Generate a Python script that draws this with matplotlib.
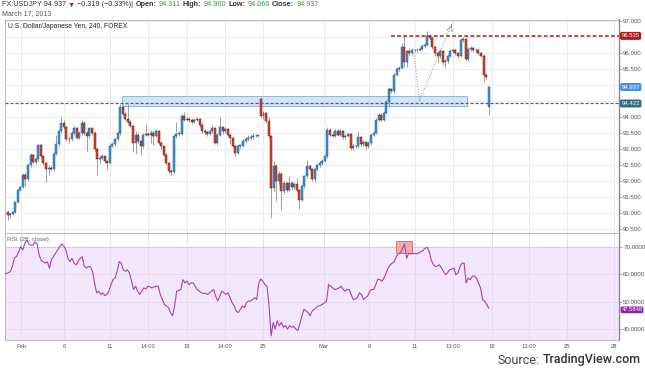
import matplotlib
matplotlib.use("Agg")
import matplotlib.pyplot as plt
import numpy as np
from matplotlib.patches import Rectangle

plt.rcParams["font.family"] = ["Liberation Sans", "DejaVu Sans"]

# ---- data (4h USDJPY candles, index = candle number) ----
first_open = 91.02
gap_opens = {99: 94.55, 188: 94.311}

closes = [
    90.95, 90.98, 91.02, 91.33, 91.72, 91.80, 92.20, 92.06, 92.50, 92.80,
    92.60, 92.68, 93.13, 92.77, 92.56, 92.38, 92.42, 92.36, 92.85, 93.15,
    93.55, 93.80, 93.68, 93.32, 93.30, 93.50, 93.66, 93.35, 93.50, 93.82,
    93.50, 93.40, 93.65, 93.50, 93.00, 92.68, 92.72, 92.78, 92.62, 92.56,
    93.10, 93.15, 93.30, 93.50, 94.31, 94.10, 93.95, 93.85, 93.73, 93.20,
    93.45, 93.24, 93.08, 93.45, 93.46, 93.45, 93.50, 93.40, 93.55, 93.19,
    93.08, 92.82, 92.56, 92.30, 92.27, 93.40, 93.48, 93.48, 94.04, 93.92,
    93.95, 93.92, 93.85, 93.92, 93.95, 93.76, 93.57, 93.52, 93.48, 93.55,
    93.66, 93.20, 93.45, 93.68, 93.55, 93.62, 93.45, 93.34, 93.10, 92.88,
    93.10, 93.10, 93.25, 93.30, 93.35, 93.38, 93.40, 93.42, 93.43, 94.02,
    94.12, 93.86, 93.40, 91.78, 92.48, 92.00, 92.23, 91.68, 91.93, 91.73,
    91.95, 91.80, 91.90, 91.72, 91.42, 91.83, 92.15, 92.46, 92.37, 92.06,
    92.36, 92.50, 92.56, 92.62, 92.77, 93.60, 93.45, 93.42, 93.57, 93.45,
    93.57, 93.36, 93.40, 93.47, 93.03, 93.10, 93.08, 93.38, 93.15, 93.22,
    93.08, 93.18, 93.45, 93.50, 93.92, 94.07, 93.92, 94.12, 94.46, 94.88,
    94.80, 95.32, 95.50, 95.53, 96.19, 95.71, 96.05, 96.00, 96.10, 96.08,
    96.10, 96.13, 96.21, 96.26, 96.54, 96.47, 96.19, 96.00, 95.90, 96.05,
    95.71, 95.74, 95.92, 96.05, 96.08, 96.00, 95.90, 96.40, 96.44, 95.81,
    96.12, 96.15, 96.10, 96.08, 96.00, 95.92, 95.32, 95.256, 94.937,
]

highs = [
    91.05, 91.02, 91.05, 91.38, 91.76, 91.84, 92.26, 92.24, 92.55, 92.86,
    92.84, 92.74, 93.16, 93.15, 92.80, 92.60, 92.50, 92.48, 92.90, 93.45,
    93.60, 94.00, 93.90, 93.72, 93.40, 93.56, 93.72, 93.70, 93.56, 93.90,
    93.86, 93.55, 93.70, 93.70, 93.55, 93.05, 92.80, 92.85, 92.82, 92.66,
    93.14, 93.22, 93.35, 93.55, 94.40, 94.36, 94.15, 94.40, 93.90, 93.78,
    93.55, 93.50, 93.28, 93.50, 93.78, 93.52, 93.58, 93.55, 93.62, 93.60,
    93.24, 93.12, 92.86, 92.60, 92.36, 93.45, 93.85, 93.55, 94.08, 94.15,
    94.00, 94.00, 93.96, 93.96, 94.00, 93.98, 93.80, 93.62, 93.56, 93.60,
    93.74, 93.70, 93.50, 94.00, 93.72, 93.68, 93.66, 93.50, 93.38, 93.14,
    93.15, 93.16, 93.30, 93.36, 93.45, 93.46, 93.50, 93.48, 93.48, 94.62,
    94.18, 94.16, 94.00, 93.45, 92.62, 92.52, 92.30, 92.28, 92.00, 91.98,
    92.15, 92.00, 91.96, 92.10, 91.76, 91.88, 92.20, 92.66, 92.50, 92.42,
    92.40, 92.55, 92.62, 92.68, 92.82, 93.68, 93.66, 93.52, 93.64, 93.62,
    93.62, 93.60, 93.45, 93.52, 93.50, 93.15, 93.14, 93.55, 93.42, 93.28,
    93.26, 93.24, 93.50, 93.55, 93.96, 94.12, 94.12, 94.18, 94.52, 94.95,
    94.92, 95.38, 95.56, 95.60, 96.30, 96.57, 96.10, 96.15, 96.16, 96.14,
    96.15, 96.20, 96.28, 96.32, 96.68, 96.60, 96.52, 96.24, 96.05, 96.12,
    96.10, 95.82, 95.98, 96.12, 96.14, 96.12, 96.04, 96.46, 96.50, 96.48,
    96.18, 96.22, 96.20, 96.14, 96.12, 96.04, 95.96, 95.36, 94.96,
]

lows = [
    90.78, 90.85, 90.93, 91.00, 91.30, 91.68, 91.78, 91.85, 92.00, 92.45,
    92.55, 92.52, 92.64, 92.72, 92.50, 91.98, 92.20, 92.30, 92.32, 92.80,
    93.10, 93.50, 93.62, 93.26, 93.20, 93.25, 93.45, 93.30, 93.30, 93.45,
    93.45, 92.95, 93.35, 93.45, 92.95, 92.18, 92.55, 92.65, 92.55, 92.35,
    92.52, 93.05, 93.10, 93.25, 93.45, 94.05, 93.90, 93.80, 93.68, 92.90,
    92.85, 93.18, 92.82, 93.02, 93.40, 93.40, 93.20, 93.12, 93.36, 93.15,
    93.00, 92.78, 92.50, 92.25, 92.18, 92.22, 93.35, 93.42, 93.44, 93.88,
    93.86, 93.85, 93.78, 93.80, 93.88, 93.70, 93.50, 93.46, 93.42, 93.44,
    93.50, 93.15, 93.12, 93.40, 93.48, 93.50, 93.40, 93.15, 93.05, 92.78,
    92.84, 93.04, 93.05, 93.20, 93.25, 93.28, 93.32, 93.36, 93.38, 93.98,
    93.95, 93.80, 93.35, 90.85, 91.70, 91.36, 91.92, 91.10, 91.60, 91.65,
    91.68, 91.72, 91.74, 91.66, 91.12, 91.38, 91.78, 92.10, 92.30, 92.00,
    91.98, 92.30, 92.45, 92.50, 92.58, 92.72, 93.40, 93.36, 93.38, 93.40,
    93.40, 93.30, 93.32, 93.36, 92.98, 92.98, 93.02, 93.04, 93.10, 93.10,
    93.00, 93.04, 93.14, 93.40, 93.46, 93.88, 93.88, 93.88, 94.08, 94.30,
    94.74, 94.76, 95.28, 95.45, 95.50, 95.55, 95.55, 95.90, 95.95, 96.02,
    96.02, 96.05, 96.08, 96.16, 96.22, 96.40, 96.12, 95.92, 95.70, 95.85,
    95.62, 95.53, 95.70, 95.88, 96.00, 95.94, 95.84, 95.86, 96.35, 95.75,
    95.76, 96.06, 96.04, 96.00, 95.94, 95.86, 95.10, 95.20, 94.066,
]

# RSI(28) read at even steps across the panel
rsi = [
    60, 60.2, 60.5, 61, 63, 66, 66.5, 68, 70, 68.8,
    71, 72.4, 71, 70.5, 70.6, 71.8, 71, 67, 65, 64.5,
    64, 64.5, 62.2, 65.2, 66.4, 67.6, 68.8, 70, 71, 70.3,
    68.8, 65.8, 64.6, 65.8, 64, 63.4, 64.6, 65.8, 66.4, 62.8,
    62.2, 62.8, 62.6, 61, 56.8, 53.2, 53.8, 52.6, 53.2, 52.2,
    52.6, 53.8, 56.2, 58, 58.6, 61, 64.6, 64, 61.6, 61,
    61.6, 60.4, 57.4, 54.4, 55.6, 53.8, 52.6, 53.8, 55, 54.6,
    55.6, 55.4, 55, 55.4, 55.6, 55.6, 52.6, 50.8, 49, 48.4,
    47.8, 46, 44.8, 48.4, 53.8, 54, 54.4, 58, 56.8, 57.4,
    56.2, 56.8, 56.8, 55.6, 54.4, 53.8, 53.2, 53, 53, 52.6,
    53.2, 53.8, 54.4, 52, 50.2, 52, 53.8, 53.2, 52.6, 53.2,
    51.4, 49.6, 48.4, 46.6, 46, 47.2, 48.4, 47.8, 49.6, 50.2,
    50.2, 50.8, 51.4, 50.8, 56.8, 58.2, 57.4, 56.2, 55.6, 48.4,
    37.5, 42.4, 40, 43, 41.2, 42.4, 40.6, 41.2, 40, 41.2,
    40.6, 41, 40, 39.4, 41.8, 44.8, 47.2, 46.6, 46, 44.8,
    46.6, 47.2, 47.8, 48.4, 48.6, 49, 49.6, 50.2, 56.2, 55.6,
    55, 54.4, 54.6, 55, 55.6, 54.6, 53.8, 54.4, 54.4, 52.6,
    50.8, 51, 51.4, 53.2, 52.6, 50.8, 51.4, 52, 53.8, 54.4,
    54.4, 56.2, 58.2, 58, 57.4, 58.6, 60.4, 62.2, 63.4, 64,
    64.6, 66.4, 67.4, 67.8, 69.4, 71, 65.8, 67.6, 67.4, 67.4,
    67.6, 67.4, 67.8, 68.2, 68.6, 69.4, 69.8, 68.2, 65.2, 63.4,
    62.8, 63, 63.4, 62.2, 61, 59.8, 60.6, 61.6, 61.8, 62.2,
    59.8, 60.4, 62.8, 64, 64, 56.8, 58.6, 58, 59.2, 59.4,
    58.6, 56.8, 55, 50.8, 50.2, 49, 47.6,
]
rsi_last = 47.5848

tick_pos = [5.3, 22.1, 40.0, 54.9, 70.1, 85.0, 99.8, 123.6, 141.2, 159.2, 174.0, 189.3, 203.7, 218.6, 236.9]
tick_labels = ["Feb", "6", "11", "14:00", "18", "14:00", "25", "Mar", "6", "11", "13:00", "18", "13:00", "25", "28"]
price_ticks = [90.5, 91.0, 91.5, 92.0, 92.5, 93.0, 93.5, 94.0, 94.5, 95.0, 95.5, 96.0, 96.5, 97.0]
hidden_ticks = [94.5, 95.0, 96.5]   # covered by the price badges in the reference

resistance = 96.535
support = 94.422
last_close = 94.937
zone = (44.8, 179.6, 94.35, 94.65)          # x0, x1, low, high
swing_x = [158.8, 160.9, 173.9]
swing_y = [96.00, 94.49, 96.96]
rsi_box = (151.9, 158.1, 67.6, 72.0)

W, H = 645, 376
UP, UP_EDGE = "#3a8ee6", "#2b5f7a"
DN, DN_EDGE = "#e2432a", "#5c1a0f"
GRID = "#e9e9e9"
TXT = "#555555"


def fx(x):
    return x / W


def fy(y):
    return 1 - y / H


fig = plt.figure(figsize=(W / 100, H / 100), dpi=100)
fig.patch.set_facecolor("white")
ax = fig.add_axes([fx(5), fy(232.5), 614 / W, 213 / H])
rx = fig.add_axes([fx(5), fy(340), 614 / W, 107 / H], sharex=ax)
renderer = fig.canvas.get_renderer()

# ---- candles ----
c = np.array(closes)
hi = np.array(highs)
lo = np.array(lows)
o = np.r_[first_open, c[:-1]]
for k, v in gap_opens.items():
    o[k] = v
idx = np.arange(len(c))
up = c >= o
hi = np.maximum(hi, np.maximum(o, c))
lo = np.minimum(lo, np.minimum(o, c))
body_lo = np.minimum(o, c)
body_h = np.maximum(np.abs(c - o), 0.015)

ax.vlines(idx, lo, hi, color="#8f8f8f", lw=0.6, zorder=3)
ax.bar(idx[up], body_h[up], bottom=body_lo[up], width=0.78,
       color=UP, edgecolor=UP_EDGE, linewidth=0.35, zorder=4)
ax.bar(idx[~up], body_h[~up], bottom=body_lo[~up], width=0.78,
       color=DN, edgecolor=DN_EDGE, linewidth=0.35, zorder=4)

# ---- drawings ----
ax.add_patch(Rectangle((zone[0], zone[2]), zone[1] - zone[0], zone[3] - zone[2],
                       facecolor="#c9dcf4", alpha=0.75, edgecolor="#6fa3df", lw=0.7, zorder=2))
ax.axhline(support, color="#2f6f7c", ls=(0, (2.5, 1.5)), lw=0.9, zorder=5)
ax.plot([149.8, 240], [resistance, resistance], color="#b3191c", ls=(0, (2.5, 1.5)), lw=1.1, zorder=5)
ax.plot(swing_x, swing_y, color="#8a8a8a", ls=":", lw=0.7, zorder=5)
ax.annotate("", xy=(swing_x[2], swing_y[2]), xytext=(swing_x[2] - 0.8, swing_y[2] - 0.18),
            arrowprops=dict(arrowstyle="->", color="#8a8a8a", lw=0.6))

ax.set_xlim(-1, 238.9)
ax.set_ylim(90.39, 97.047)
ax.set_yticks(price_ticks)
ax.set_yticklabels(["" if t in hidden_ticks else f"{t:.3f}" for t in price_ticks])
ax.yaxis.tick_right()
ax.tick_params(axis="y", labelsize=4.4, labelcolor=TXT, length=2, width=0.5, color="#888", pad=1)
ax.tick_params(axis="x", labelbottom=False, length=0)
ax.grid(color=GRID, lw=0.6, zorder=0)
ax.set_axisbelow(True)
for s in ax.spines.values():
    s.set_color("#b0b0b0")
    s.set_linewidth(0.6)
ax.spines["right"].set_color("#8a8a8a")
ax.spines["right"].set_linewidth(1.0)

ax.text(0.005, 0.965, "U.S. Dollar/Japanese Yen, 240, FOREX", transform=ax.transAxes,
        fontsize=4.9, color="#222222", va="center", ha="left")

ytr = ax.get_yaxis_transform()
for val, col in [(resistance, "#b3191c"), (last_close, "#4a90e2"), (support, "#2f6f7c")]:
    ax.text(1.004, val, f"{val:.3f}", transform=ytr, fontsize=4.3, color="white",
            va="center", ha="left", zorder=10, clip_on=False,
            bbox=dict(boxstyle="round,pad=0.25,rounding_size=0.3", fc=col, ec="none"))

# ---- RSI ----
rsi_x = np.linspace(-1.3, 188.0, len(rsi))
rx.axhspan(30, 70, color="#f4e6fb", zorder=0)
rx.axhline(70, color="#b8b8b8", ls=":", lw=0.7, zorder=1)
rx.plot(rsi_x, rsi, color="#a045c0", lw=0.8, zorder=4)
rx.add_patch(Rectangle((rsi_box[0], rsi_box[2]), rsi_box[1] - rsi_box[0], rsi_box[3] - rsi_box[2],
                       facecolor="#f2a09c", alpha=0.85, edgecolor="#d9534f", lw=0.6, zorder=3))
rx.set_ylim(36.0, 75.0)
rx.set_yticks([40, 50, 60, 70])
rx.yaxis.set_major_formatter(plt.FormatStrFormatter("%.4f"))
rx.yaxis.tick_right()
rx.tick_params(axis="y", labelsize=4.4, labelcolor=TXT, length=2, width=0.5, color="#888", pad=1)
rx.set_xticks(tick_pos)
rx.set_xticklabels(tick_labels)
rx.tick_params(axis="x", labelsize=4.2, labelcolor=TXT, length=0, pad=3)
rx.grid(color="#e6d8ee", lw=0.6, zorder=0)
rx.set_axisbelow(True)
for s in rx.spines.values():
    s.set_color("#b0b0b0")
    s.set_linewidth(0.6)
rx.spines["right"].set_color("#8a8a8a")
rx.spines["right"].set_linewidth(1.0)
rx.text(0.004, 0.935, "RSI (28, close)", transform=rx.transAxes, fontsize=4.6,
        color="#666666", va="center", ha="left", zorder=6)
rx.text(1.004, rsi_last - 0.6, f"{rsi_last:.4f}", transform=rx.get_yaxis_transform(), fontsize=4.2,
        color="white", va="center", ha="left", zorder=10, clip_on=False,
        bbox=dict(boxstyle="round,pad=0.15,rounding_size=0.3", fc="#8e24aa", ec="none"))

# ---- header, laid out left to right ----
hdr = [
    ("FX:USDJPY 94.937", "#333333", "normal"),
    ("\u25bc", "#c0161b", "normal"),
    ("\u22120.319 (\u22120.33%)|", "#333333", "normal"),
    ("Open:", "#333333", "bold"),
    ("94.311", "#2e9e3a", "normal"),
    ("High:", "#333333", "bold"),
    ("94.960", "#2e9e3a", "normal"),
    ("Low:", "#333333", "bold"),
    ("94.066", "#2e9e3a", "normal"),
    ("Close:", "#333333", "bold"),
    ("94.937", "#2e9e3a", "normal"),
]
xpos = 1.5
for s, col, wt in hdr:
    t = fig.text(fx(xpos), fy(5), s, fontsize=5.2, color=col, fontweight=wt, va="center", ha="left")
    xpos += t.get_window_extent(renderer).width + 2.2
fig.text(fx(2), fy(13.5), "March 17, 2013", fontsize=5.0, color="#555555", va="center", ha="left")

src = fig.text(fx(641), fy(360), "TradingView.com", fontsize=9, color="#333333", va="center",
               ha="right", fontweight="medium", family=["Roboto", "DejaVu Sans"])
src_w = src.get_window_extent(renderer).width
fig.text(fx(641 - src_w - 3), fy(360), "Source:", fontsize=9, color="#444444", va="center",
         ha="right", family=["Roboto", "DejaVu Sans"])

fig.savefig("out.png", dpi=100)
